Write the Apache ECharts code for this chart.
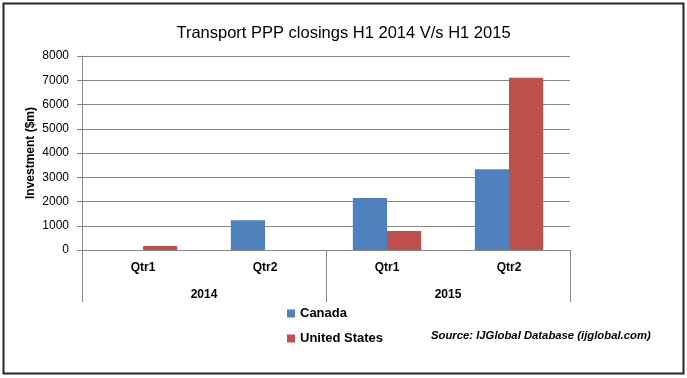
<!DOCTYPE html>
<html>
<head>
<meta charset="utf-8">
<script src="https://cdn.jsdelivr.net/npm/echarts@6/dist/echarts.min.js"></script>
<style>html,body{margin:0;padding:0;background:#fff;}#c{width:687px;height:378px;}</style>
</head>
<body>
<div id="c"></div>
<script>
const quarters = ['Qtr1', 'Qtr2', 'Qtr1', 'Qtr2'];
const years = ['2014', '2015'];
const canada = [0, 1230, 2140, 3330];
const unitedStates = [160, 0, 780, 7100];
const yTicks = { min: 0, max: 8000, interval: 1000 };

const chart = echarts.init(document.getElementById('c'));
const font = 'Liberation Sans, Arial, sans-serif';
chart.setOption({
  animation: false,
  backgroundColor: '#fff',
  title: {
    text: 'Transport PPP closings H1 2014 V/s H1 2015',
    left: 'center', top: 20,
    textStyle: { fontFamily: font, fontSize: 16.5, fontWeight: 'normal', color: '#000' }
  },
  legend: {
    orient: 'vertical', left: 282, top: 302, itemGap: 12,
    itemWidth: 8, itemHeight: 8, icon: 'rect',
    textStyle: { fontFamily: font, fontSize: 13, fontWeight: 'bold', color: '#000' },
    data: ['Canada', 'United States']
  },
  grid: { left: 82, right: 117, top: 56, bottom: 128, containLabel: false },
  xAxis: [
    {
      type: 'category', data: quarters, position: 'bottom',
      axisLine: { show: true, lineStyle: { color: '#868686', width: 1 } },
      axisTick: { show: false },
      axisLabel: { margin: 12, fontFamily: font, fontSize: 12, fontWeight: 'bold', color: '#000' }
    },
    {
      type: 'category', data: years, position: 'bottom',
      axisLine: { show: false },
      axisTick: { show: true, length: 52, alignWithLabel: false, lineStyle: { color: '#868686', width: 1 } },
      axisLabel: { margin: 39, fontFamily: font, fontSize: 12, fontWeight: 'bold', color: '#000' }
    }
  ],
  yAxis: {
    type: 'value', min: yTicks.min, max: yTicks.max, interval: yTicks.interval,
    name: 'Investment ($m)', nameLocation: 'middle', nameGap: 45, nameRotate: 90,
    nameMoveOverlap: false,
    nameTextStyle: { fontFamily: font, fontSize: 12, fontWeight: 'bold', color: '#000' },
    axisLine: { show: true, lineStyle: { color: '#868686', width: 1 } },
    axisTick: { show: true, length: 5, lineStyle: { color: '#868686' } },
    axisLabel: { margin: 13, fontFamily: font, fontSize: 12, color: '#000', formatter: v => String(v) },
    splitLine: { show: true, lineStyle: { color: '#868686', width: 1 } }
  },
  series: [
    { name: 'Canada', type: 'bar', data: canada, xAxisIndex: 0, barGap: '0%', barCategoryGap: '44%',
      itemStyle: { color: '#4F81BD' } },
    { name: 'United States', type: 'bar', data: unitedStates, xAxisIndex: 0, barGap: '0%', barCategoryGap: '44%',
      itemStyle: { color: '#C0504D' } }
  ],
  graphic: [
    { type: 'rect', shape: { x: 3.5, y: 3.5, width: 680, height: 370 }, silent: true, z: 100,
      style: { fill: null, stroke: '#262626', lineWidth: 2 } },
    { type: 'text', left: 431, top: 330,
      style: { text: 'Source: IJGlobal Database (ijglobal.com)', fontFamily: font, fontSize: 11.3,
        fontWeight: 'bold', fontStyle: 'italic', fill: '#000' } }
  ]
});
</script>
</body>
</html>
